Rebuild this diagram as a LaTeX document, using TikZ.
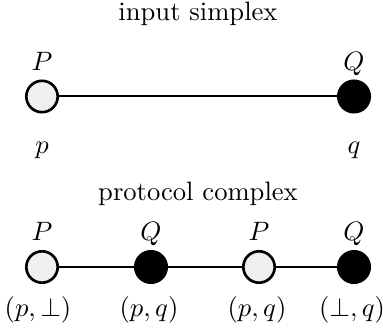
\documentclass[tikz,border=0pt]{standalone}
\begin{document}
\begin{tikzpicture}[x=0.376pt,y=-0.376pt,
  vtx/.style={circle,draw=black,line width=1pt,minimum size=11.8pt,inner sep=0pt},
  pvtx/.style={vtx,fill=black!6},
  qvtx/.style={vtx,fill=black},
  edge/.style={line width=0.75pt},
  lbl/.style={anchor=base,inner sep=0pt}]
\useasboundingbox (0,0) rectangle (383,333);
% input simplex
\node[lbl] (t1) at (198,20.7) {input simplex};
\node[pvtx] (a1) at (42,96.5) {};
\node[qvtx] (a2) at (354,96.5) {};
\draw[edge] (a1) -- (a2);
\node[lbl] (aP) at (42,70.5) {$P$};
\node[lbl] (aQ) at (354,70.5) {$Q$};
\node[lbl] (ap) at (42,154) {$p$};
\node[lbl] (aq) at (354,154) {$q$};
% protocol complex
\node[lbl] (t2) at (198,201) {protocol complex};
\node[pvtx] (b1) at (42,267) {};
\node[qvtx] (b2) at (151,267) {};
\node[pvtx] (b3) at (259,267) {};
\node[qvtx] (b4) at (354,267) {};
\draw[edge] (b1) -- (b2);
\draw[edge] (b2) -- (b3);
\draw[edge] (b3) -- (b4);
\node[lbl] (bP1) at (42,240.5) {$P$};
\node[lbl] (bQ1) at (151,240.5) {$Q$};
\node[lbl] (bP2) at (259,240.5) {$P$};
\node[lbl] (bQ2) at (354,240.5) {$Q$};
\node[lbl] (bl1) at (38,316) {$(p,\perp)$};
\node[lbl] (bl2) at (149,316) {$(p,q)$};
\node[lbl] (bl3) at (257,316) {$(p,q)$};
\node[lbl] (bl4) at (352,316) {$(\perp,q)$};
\end{tikzpicture}
\end{document}
